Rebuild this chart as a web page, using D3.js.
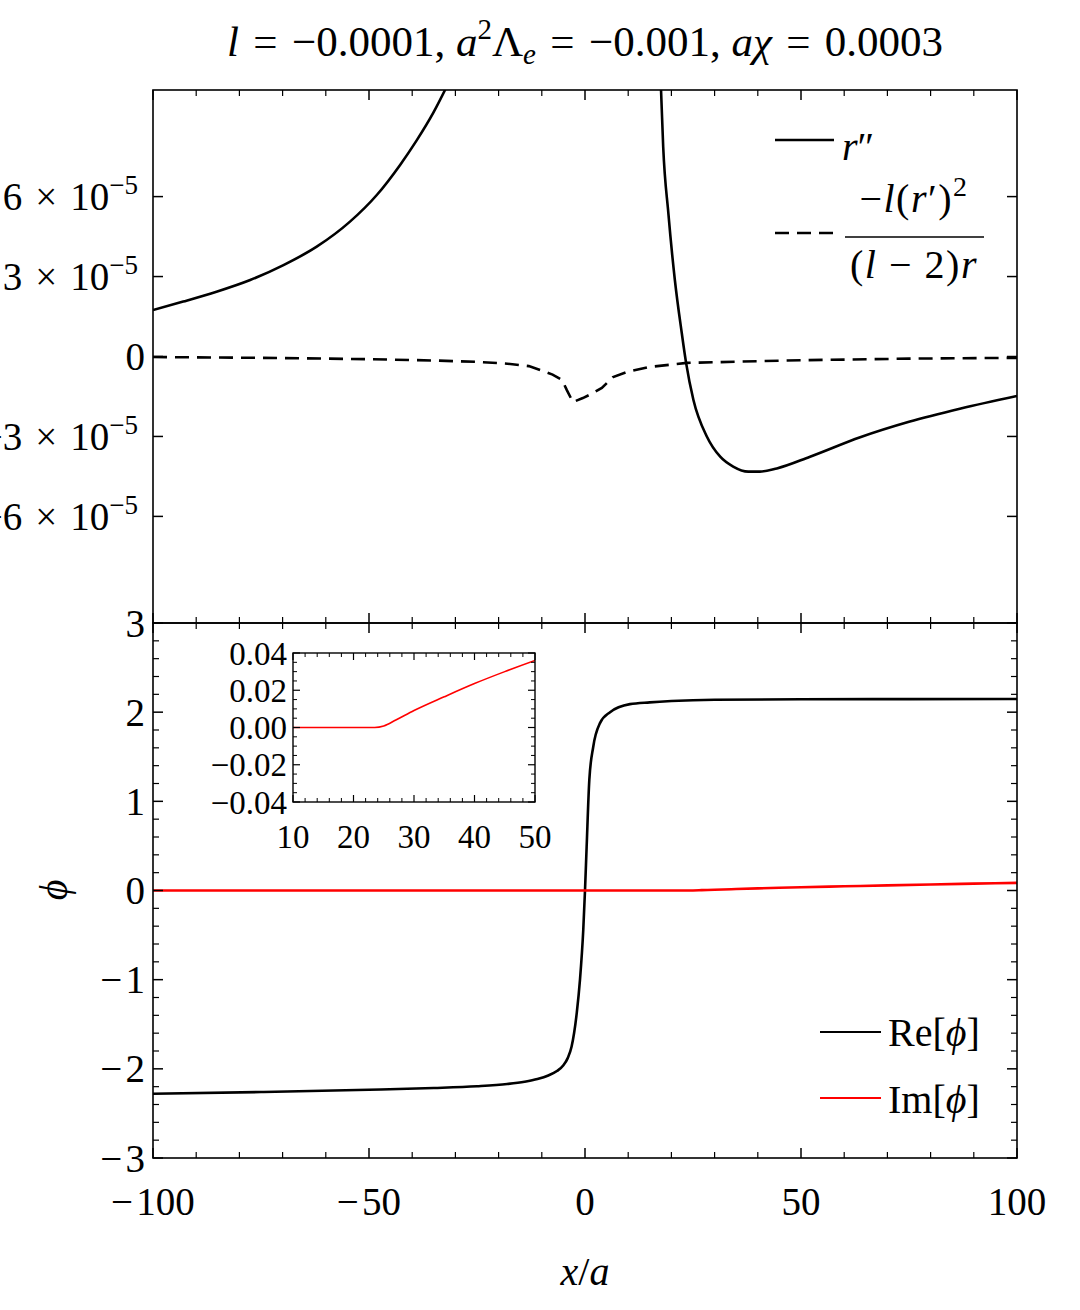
<!DOCTYPE html>
<html><head><meta charset="utf-8">
<script src="https://cdn.jsdelivr.net/npm/d3@7"></script>
<style>
body{margin:0;background:#fff}
text{font-family:"Liberation Serif","DejaVu Serif",serif;fill:#000}
</style>
</head><body>
<svg id="c" width="1080" height="1310"></svg>
<script>
// ---------- data ----------
const xDomain = [-100, 100];
const xMajorTicks = [-100, -50, 0, 50, 100];
const xMajorLabels = ["−\u200a100", "−\u200a50", "0", "50", "100"];
const xMinorTicks = d3.range(-100, 101, 10);

// top panel values in units of 1e-5
const topYDomain = [-10, 10];
const topYTicks = [-6, -3, 0, 3, 6];
const topYMantissa = ["−6", "−3", "0", "3", "6"];
const topYExponent = "−5";

// r'' (solid) – left branch (diverges upward)
const rppLeftX = [-100, -93, -85.3, -77.5, -69.8, -62.1, -54.4, -48.2, -42.8, -39, -35.1, -32.4, -31.5];
const rppLeftY = [1.745, 2.06, 2.43, 2.87, 3.43, 4.12, 5.06, 6.06, 7.19, 8.10, 9.15, 10.0, 10.3];
// r'' – right branch
const rppRightX = [17.3, 17.6, 18.1, 19.3, 20.8, 22.4, 23.4, 25.1, 28.2, 31.3, 34.3, 37.8, 40.5, 44.4, 52.1, 63.7, 75, 87, 100];
const rppRightY = [11, 10.0, 7.87, 5.37, 2.87, 0.88, -0.24, -1.63, -3.0, -3.76, -4.13, -4.32, -4.32, -4.2, -3.76, -3.03, -2.45, -1.95, -1.48];
// -l(r')^2/((l-2)r) (dashed)
const ratioX = [-100, -75, -50, -35, -25, -18, -13, -10.4, -7.5, -5.3, -4.2, -2.8, -0.5, 1.5, 3.9, 6.5, 9.7, 15, 23.6, 31.2, 50, 75, 100];
const ratioY = [-0.02, -0.05, -0.1, -0.15, -0.2, -0.27, -0.36, -0.51, -0.68, -0.88, -1.26, -1.71, -1.56, -1.40, -1.18, -0.77, -0.58, -0.39, -0.24, -0.21, -0.14, -0.08, -0.05];

// bottom panel
const botYDomain = [-3, 3];
const botYTicks = [-3, -2, -1, 0, 1, 2, 3];
const botYLabels = ["−\u200a3", "−\u200a2", "−\u200a1", "0", "1", "2", "3"];
const botYMinor = d3.range(-3, 3.001, 0.2);
const reX = [-100, -75, -50, -35, -25, -18, -14, -11, -8.5, -6.5, -5, -4, -3.1, -1.9, -1.16, -0.4, 0, 0.38, 1, 1.9, 3.5, 5.8, 10.4, 15, 20, 30, 50, 75, 100];
const reY = [-2.28, -2.26, -2.235, -2.215, -2.195, -2.17, -2.145, -2.115, -2.075, -2.025, -1.96, -1.88, -1.75, -1.37, -1.0, -0.44, 0, 0.49, 1.24, 1.61, 1.88, 2.0, 2.09, 2.11, 2.125, 2.14, 2.145, 2.146, 2.147];
const imX = [-100, 10, 23.5, 25, 27, 30, 35, 40, 45, 50, 60, 70, 80, 90, 100];
const imY = [0, 0, 0, 0.0008, 0.004, 0.0091, 0.0165, 0.0236, 0.030, 0.036, 0.047, 0.058, 0.068, 0.077, 0.086];

// inset
const inXDomain = [10, 50];
const inXTicks = [10, 20, 30, 40, 50];
const inXMinor = d3.range(10, 50.001, 2);
const inYDomain = [-0.04, 0.04];
const inYTicks = [-0.04, -0.02, 0, 0.02, 0.04];
const inYLabels = ["−0.04", "−0.02", "0.00", "0.02", "0.04"];
const inYMinor = d3.range(-0.04, 0.04001, 0.005);

// ---------- layout ----------
const svg = d3.select("#c");
const L = 153, R = 1017, T1 = 90, B1 = 623, T2 = 623, B2 = 1158;
const FS = 39;

const x = d3.scaleLinear().domain(xDomain).range([L, R]);
const yTop = d3.scaleLinear().domain(topYDomain).range([B1, T1]);
const yBot = d3.scaleLinear().domain(botYDomain).range([B2, T2]);

const defs = svg.append("defs");
function clip(id, x0, y0, w, h) {
  defs.append("clipPath").attr("id", id).append("rect").attr("x", x0).attr("y", y0).attr("width", w).attr("height", h);
}
clip("cTop", L, T1, R - L, B1 - T1);
clip("cBot", L, T2, R - L, B2 - T2);

function ticks(g, xs, xVals, ys, yVals, len, sw) {
  const [x0, x1] = xs.range(), [y0, y1] = [ys.range()[1], ys.range()[0]];
  xVals.forEach(v => {
    g.append("line").attr("x1", xs(v)).attr("x2", xs(v)).attr("y1", y1).attr("y2", y1 - len).attr("stroke", "#000").attr("stroke-width", sw);
    g.append("line").attr("x1", xs(v)).attr("x2", xs(v)).attr("y1", y0).attr("y2", y0 + len).attr("stroke", "#000").attr("stroke-width", sw);
  });
  yVals.forEach(v => {
    g.append("line").attr("x1", x0).attr("x2", x0 + len).attr("y1", ys(v)).attr("y2", ys(v)).attr("stroke", "#000").attr("stroke-width", sw);
    g.append("line").attr("x1", x1).attr("x2", x1 - len).attr("y1", ys(v)).attr("y2", ys(v)).attr("stroke", "#000").attr("stroke-width", sw);
  });
}

const lineGen = (xs, ys, xa, ya, curve) => d3.line().x((d, i) => xs(xa[i])).y((d, i) => ys(ya[i])).curve(curve || d3.curveMonotoneX)(xa);

// ---------- title ----------
const EQ = "\u2004=\u2004";
const title = svg.append("text").attr("x", 585).attr("y", 56).attr("text-anchor", "middle").attr("font-size", 43);
title.append("tspan").attr("font-style", "italic").text("l");
title.append("tspan").text(EQ + "−0.0001, ");
title.append("tspan").attr("font-style", "italic").text("a");
title.append("tspan").attr("dy", -17).attr("font-size", 29).text("2");
title.append("tspan").attr("dy", 17).text("Λ");
title.append("tspan").attr("dy", 8).attr("font-size", 29).attr("font-style", "italic").text("e");
title.append("tspan").attr("dy", -8).text(EQ + "−0.001, ");
title.append("tspan").attr("font-style", "italic").text("aχ");
title.append("tspan").text(EQ + "0.0003");

// ---------- top panel ----------
const gT = svg.append("g");
const gTc = gT.append("g").attr("clip-path", "url(#cTop)");
gTc.append("path").attr("d", lineGen(x, yTop, rppLeftX, rppLeftY)).attr("fill", "none").attr("stroke", "#000").attr("stroke-width", 2.6);
gTc.append("path").attr("d", lineGen(x, yTop, rppRightX, rppRightY)).attr("fill", "none").attr("stroke", "#000").attr("stroke-width", 2.6);
gTc.append("path").attr("d", lineGen(x, yTop, ratioX, ratioY, d3.curveLinear)).attr("fill", "none").attr("stroke", "#000").attr("stroke-width", 2.6).attr("stroke-dasharray", "14,8");

ticks(gT, x, xMajorTicks, yTop, topYTicks, 10, 1.5);
ticks(gT, x, xMinorTicks.filter(v => !xMajorTicks.includes(v)), yTop, [], 6, 1.2);
gT.append("rect").attr("x", L).attr("y", T1).attr("width", R - L).attr("height", B1 - T1).attr("fill", "none").attr("stroke", "#000").attr("stroke-width", 1.6);

topYTicks.forEach((v, i) => {
  const t = gT.append("text").attr("y", yTop(v)).attr("dy", "0.35em").attr("text-anchor", "end").attr("font-size", FS);
  if (v === 0) { t.attr("x", 145).text(topYMantissa[i]); }
  else {
    t.attr("x", 138);
    t.append("tspan").text(topYMantissa[i] + "\u2004×\u2004" + "10");
    t.append("tspan").attr("dy", -16).attr("font-size", 27).text(topYExponent);
  }
});

// legend top
const lgT = svg.append("g");
lgT.append("line").attr("x1", 775).attr("x2", 834).attr("y1", 140).attr("y2", 140).attr("stroke", "#000").attr("stroke-width", 2.6);
const rpp = lgT.append("text").attr("x", 842).attr("y", 160).attr("font-size", 40);
rpp.append("tspan").attr("font-style", "italic").text("r");
rpp.append("tspan").text("″");
lgT.append("line").attr("x1", 775).attr("x2", 834).attr("y1", 233).attr("y2", 233).attr("stroke", "#000").attr("stroke-width", 2.6).attr("stroke-dasharray", "14,8");
const num = lgT.append("text").attr("x", 914).attr("y", 212).attr("text-anchor", "middle").attr("font-size", 40).attr("letter-spacing", 1.5);
num.append("tspan").text("−");
num.append("tspan").attr("font-style", "italic").text("l");
num.append("tspan").text("(");
num.append("tspan").attr("font-style", "italic").text("r");
num.append("tspan").text("′)");
num.append("tspan").attr("dy", -16).attr("font-size", 28).text("2");
lgT.append("line").attr("x1", 845).attr("x2", 984).attr("y1", 237).attr("y2", 237).attr("stroke", "#000").attr("stroke-width", 1.6);
const den = lgT.append("text").attr("x", 914).attr("y", 278).attr("text-anchor", "middle").attr("font-size", 40).attr("letter-spacing", 1.5);
den.append("tspan").text("(");
den.append("tspan").attr("font-style", "italic").text("l");
den.append("tspan").text(" − 2)");
den.append("tspan").attr("font-style", "italic").text("r");

// ---------- bottom panel ----------
const gB = svg.append("g");
const gBc = gB.append("g").attr("clip-path", "url(#cBot)");
gBc.append("path").attr("d", lineGen(x, yBot, reX, reY)).attr("fill", "none").attr("stroke", "#000").attr("stroke-width", 2.6);
gBc.append("path").attr("d", lineGen(x, yBot, imX, imY)).attr("fill", "none").attr("stroke", "#ff0000").attr("stroke-width", 2.6);

ticks(gB, x, xMajorTicks, yBot, botYTicks, 10, 1.5);
ticks(gB, x, xMinorTicks.filter(v => !xMajorTicks.includes(v)), yBot, botYMinor.filter(v => Math.abs(v - Math.round(v)) > 1e-6), 6, 1.2);
gB.append("rect").attr("x", L).attr("y", T2).attr("width", R - L).attr("height", B2 - T2).attr("fill", "none").attr("stroke", "#000").attr("stroke-width", 1.6);

botYTicks.forEach((v, i) => {
  gB.append("text").attr("x", 145).attr("y", yBot(v)).attr("dy", "0.35em").attr("text-anchor", "end").attr("font-size", FS).text(botYLabels[i]);
});
xMajorTicks.forEach((v, i) => {
  gB.append("text").attr("x", x(v)).attr("y", 1215).attr("text-anchor", "middle").attr("font-size", FS).text(xMajorLabels[i]);
});
// axis labels
const xl = svg.append("text").attr("x", 585).attr("y", 1285).attr("text-anchor", "middle").attr("font-size", 40).attr("font-style", "italic");
xl.append("tspan").text("x");
xl.append("tspan").attr("font-style", "normal").text("/");
xl.append("tspan").text("a");
svg.append("text").attr("transform", "translate(67,890) rotate(-90)").attr("text-anchor", "middle").attr("font-size", 40).attr("font-style", "italic").text("ϕ");

// legend bottom
const lgB = svg.append("g");
lgB.append("line").attr("x1", 820).attr("x2", 881).attr("y1", 1032).attr("y2", 1032).attr("stroke", "#000").attr("stroke-width", 2);
const re = lgB.append("text").attr("x", 888).attr("y", 1046).attr("font-size", 40);
re.append("tspan").text("Re[");
re.append("tspan").attr("font-style", "italic").text("ϕ");
re.append("tspan").text("]");
lgB.append("line").attr("x1", 820).attr("x2", 881).attr("y1", 1098).attr("y2", 1098).attr("stroke", "#ff0000").attr("stroke-width", 2);
const im = lgB.append("text").attr("x", 888).attr("y", 1113).attr("font-size", 40);
im.append("tspan").text("Im[");
im.append("tspan").attr("font-style", "italic").text("ϕ");
im.append("tspan").text("]");

// ---------- inset ----------
const xIn = d3.scaleLinear().domain(inXDomain).range([293, 535]);
const yIn = d3.scaleLinear().domain(inYDomain).range([802, 653]);
clip("cIn", 293, 653, 242, 149);
const gI = svg.append("g");
gI.append("rect").attr("x", 293).attr("y", 653).attr("width", 242).attr("height", 149).attr("fill", "#fff");
gI.append("g").attr("clip-path", "url(#cIn)").append("path").attr("d", lineGen(xIn, yIn, imX, imY)).attr("fill", "none").attr("stroke", "#ff0000").attr("stroke-width", 1.6);
ticks(gI, xIn, inXTicks, yIn, inYTicks, 7, 1.2);
ticks(gI, xIn, inXMinor.filter(v => v % 10 !== 0), yIn, inYMinor.filter(v => Math.abs(v / 0.02 - Math.round(v / 0.02)) > 1e-6), 4, 1);
gI.append("rect").attr("x", 293).attr("y", 653).attr("width", 242).attr("height", 149).attr("fill", "none").attr("stroke", "#000").attr("stroke-width", 1.4);
inYTicks.forEach((v, i) => {
  gI.append("text").attr("x", 287).attr("y", yIn(v)).attr("dy", "0.35em").attr("text-anchor", "end").attr("font-size", 33).text(inYLabels[i]);
});
inXTicks.forEach(v => {
  gI.append("text").attr("x", xIn(v)).attr("y", 848).attr("text-anchor", "middle").attr("font-size", 33).text(v);
});
</script>
</body></html>
